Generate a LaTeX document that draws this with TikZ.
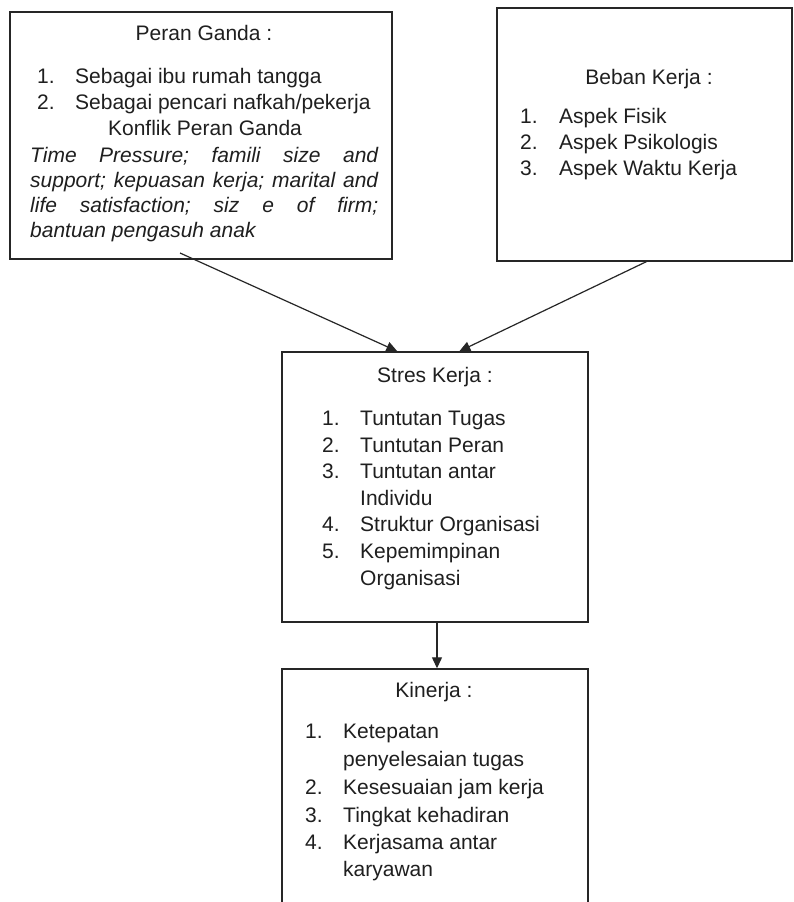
\documentclass[tikz,border=0pt]{standalone}
\usepackage{fontspec}
\setmainfont{Liberation Sans}
\usetikzlibrary{arrows.meta}
\begin{document}
\begin{tikzpicture}[x=1pt,y=-1pt,
  box/.style={draw=black!85, line width=1.4pt, inner sep=0pt},
  txt/.style={anchor=base west, inner sep=0pt, text=black!88, font=\fontsize{21}{25}\selectfont},
  ctxt/.style={anchor=base, inner sep=0pt, text=black!88, font=\fontsize{21}{25}\selectfont},
  itxt/.style={anchor=base west, inner sep=0pt, text=black!88, font=\fontsize{21}{25}\selectfont\itshape},
  conn/.style={draw=black!85, line width=1.2pt, -{Triangle[length=11pt,width=10pt]}}]
\path[use as bounding box, clip] (0,0) rectangle (794,902);
\fill[white] (0,0) rectangle (794,902);

% boxes
\node[box, minimum width=382pt, minimum height=247pt] (peran) at (201,135.5) {};
\node[box, minimum width=295pt, minimum height=253pt] (beban) at (644.5,134.5) {};
\node[box, minimum width=306pt, minimum height=270pt] (stres) at (435,487) {};
\node[box, minimum width=306pt, minimum height=262pt] (kinerja) at (435,800) {};

% Peran Ganda
\node[ctxt] (pt) at (204,40) {Peran Ganda :};
\node[txt] (pn1) at (37,83) {1.};
\node[txt] (pi1) at (75,83) {Sebagai ibu rumah tangga};
\node[txt] (pn2) at (37,109) {2.};
\node[txt] (pi2) at (75,109) {Sebagai pencari nafkah/pekerja};
\node[ctxt] (pk) at (205,135) {Konflik Peran Ganda};
\node[itxt] (pl1) at (30,162) {\hbox to 348pt{Time\hfill Pressure;\hfill famili\hfill size\hfill and}};
\node[itxt] (pl2) at (30,187) {\hbox to 348pt{support;\hfill kepuasan\hfill kerja;\hfill marital\hfill and}};
\node[itxt] (pl3) at (30,212) {\hbox to 348pt{life\hfill satisfaction;\hfill siz\hfill e\hfill of\hfill firm;}};
\node[itxt] (pl4) at (30,237) {bantuan pengasuh anak};

% Beban Kerja
\node[ctxt] (bt) at (649,84) {Beban Kerja :};
\node[txt] (bn1) at (520,123) {1.};
\node[txt] (bi1) at (559,123) {Aspek Fisik};
\node[txt] (bn2) at (520,149) {2.};
\node[txt] (bi2) at (559,149) {Aspek Psikologis};
\node[txt] (bn3) at (520,175) {3.};
\node[txt] (bi3) at (559,175) {Aspek Waktu Kerja};

% Stres Kerja
\node[ctxt] (st) at (435,382) {Stres Kerja :};
\node[txt] (sn1) at (322,425) {1.};
\node[txt] (si1) at (360,425) {Tuntutan Tugas};
\node[txt] (sn2) at (322,452) {2.};
\node[txt] (si2) at (360,452) {Tuntutan Peran};
\node[txt] (sn3) at (322,478) {3.};
\node[txt] (si3) at (360,478) {Tuntutan antar};
\node[txt] (si3b) at (360,505) {Individu};
\node[txt] (sn4) at (322,531) {4.};
\node[txt] (si4) at (360,531) {Struktur Organisasi};
\node[txt] (sn5) at (322,558) {5.};
\node[txt] (si5) at (360,558) {Kepemimpinan};
\node[txt] (si5b) at (360,585) {Organisasi};

% Kinerja
\node[ctxt] (kt) at (434,697) {Kinerja :};
\node[txt] (kn1) at (305,738) {1.};
\node[txt] (ki1) at (343,738) {Ketepatan};
\node[txt] (ki1b) at (343,766) {penyelesaian tugas};
\node[txt] (kn2) at (305,794) {2.};
\node[txt] (ki2) at (343,794) {Kesesuaian jam kerja};
\node[txt] (kn3) at (305,822) {3.};
\node[txt] (ki3) at (343,822) {Tingkat kehadiran};
\node[txt] (kn4) at (305,849) {4.};
\node[txt] (ki4) at (343,849) {Kerjasama antar};
\node[txt] (ki4b) at (343,876) {karyawan};

% connectors
\coordinate (a1s) at (180,253);
\draw[conn] (a1s) -- ([xshift=116pt]stres.north west);
\draw[conn] ([xshift=150pt]beban.south west) -- ([xshift=178pt]stres.north west);
\draw[conn] ([xshift=2pt]stres.south) -- ([xshift=2pt]kinerja.north);
\end{tikzpicture}
\end{document}
